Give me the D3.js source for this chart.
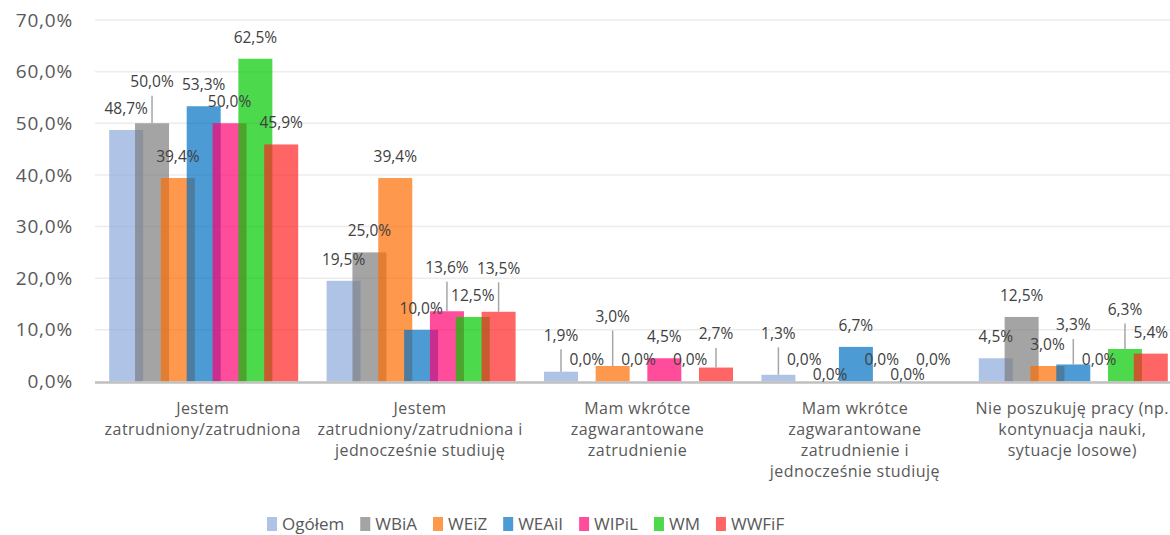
<!DOCTYPE html>
<html>
<head>
<meta charset="utf-8">
<script src="https://cdn.jsdelivr.net/npm/d3@7"></script>
<style>
	body { margin: 0; background: #fff; }
	svg { display: block; font-family: "Open Sans", "Noto Sans", sans-serif; }
</style>
</head>
<body>
<script>
window.onload = function() {
	chart.init();
}

// categories, each already split into lines like in the original
var categories = [
	["Jestem", "zatrudniony/zatrudniona"],
	["Jestem", "zatrudniony/zatrudniona i", "jednocześnie studiuję"],
	["Mam wkrótce", "zagwarantowane", "zatrudnienie"],
	["Mam wkrótce", "zagwarantowane", "zatrudnienie i", "jednocześnie studiuję"],
	["Nie poszukuję pracy (np.", "kontynuacja nauki,", "sytuacje losowe)"]
];

var seriesNames = ["Ogółem", "WBiA", "WEiZ", "WEAiI", "WIPiL", "WM", "WWFiF"];

var ogolem = [48.7, 19.5, 1.9, 1.3, 4.5];
var wbia   = [50.0, 25.0, 0.0, 0.0, 12.5];
var weiz   = [39.4, 39.4, 3.0, 0.0, 3.0];
var weaii  = [53.3, 10.0, 0.0, 6.7, 3.3];
var wipil  = [50.0, 13.6, 4.5, 0.0, 0.0];
var wm     = [62.5, 12.5, 0.0, 0.0, 6.3];
var wwfif  = [45.9, 13.5, 2.7, 0.0, 5.4];

var yTicks = [0, 10, 20, 30, 40, 50, 60, 70];

var chart = {

	svg: null,
	width: 1170,
	height: 535,

	colors: ["#8ba9db", "#7e7e7e", "#fc6c00", "#0070c3", "#ff0070", "#00c900", "#ff2424"],

	// labels that were dragged away in the original: [category, series, shift]
	moved: [
		[0, 1, -20],
		[1, 4, -22], [1, 6, -22],
		[2, 0, -15], [2, 2, -28], [2, 6, -12],
		[3, 0, -20], [3, 2, 15], [3, 5, 15],
		[4, 3, -18], [4, 5, -18]
	],

	init: function() {
		var values = [ogolem, wbia, weiz, weaii, wipil, wm, wwfif];
		var series = seriesNames.map(function(n, i) {
			return { name: n, color: chart.colors[i], values: values[i] };
		});

		var pct = d3.formatLocale({ decimal: ",", thousands: " ", grouping: [3], currency: ["", " zł"] }).format(".1%");

		this.svg = d3.select("body").append("svg")
			.attr("width", this.width)
			.attr("height", this.height);

		var x = d3.scaleBand()
			.domain(d3.range(categories.length))
			.range([95, 1182]);

		var inner = d3.scalePoint()
			.domain(seriesNames)
			.range([-77.5, 77.5]);

		var y = d3.scaleLinear()
			.domain([0, 70])
			.range([381.5, 20]);

		var barW = 34;
		var cx = function(c, s) { return x(c) + x.bandwidth() / 2 + inner(s); };

		// gridlines
		this.svg.append("g")
			.selectAll("line")
			.data(yTicks.slice(1))
			.join("line")
			.attr("x1", 95)
			.attr("x2", this.width)
			.attr("y1", function(d) { return y(d); })
			.attr("y2", function(d) { return y(d); })
			.attr("stroke", "#ececec")
			.attr("stroke-width", 1.5);

		// y axis labels
		var yAxis = this.svg.append("g")
			.attr("transform", "translate(73,0)")
			.call(d3.axisLeft(y).tickValues(yTicks).tickSize(0).tickPadding(0)
				.tickFormat(function(d) { return pct(d / 100); }));
		yAxis.select(".domain").remove();
		yAxis.selectAll("text")
			.attr("fill", "#595959")
			.style("font-size", "19px")
			.style("letter-spacing", "0.8px")
			.style("font-family", "'Open Sans', sans-serif");

		// bars, series by series so the later ones sit on top
		series.forEach(function(s) {
			chart.svg.append("g")
				.selectAll("rect")
				.data(s.values)
				.join("rect")
				.attr("x", function(d, i) { return cx(i, s.name) - barW / 2; })
				.attr("width", barW)
				.attr("y", function(d) { return y(d); })
				.attr("height", function(d) { return y(0) - y(d); })
				.attr("fill", s.color)
				.attr("fill-opacity", 0.7);
		});

		// x axis line
		this.svg.append("line")
			.attr("x1", 95)
			.attr("x2", this.width)
			.attr("y1", y(0) + 1)
			.attr("y2", y(0) + 1)
			.attr("stroke", "#bfbfbf")
			.attr("stroke-width", 2.5);

		// data labels
		var shift = function(c, si) {
			var m = chart.moved.filter(function(r) { return r[0] == c && r[1] == si; });
			return m.length ? m[0][2] : 0;
		};

		series.forEach(function(s, si) {
			s.values.forEach(function(v, c) {
				var px = cx(c, s.name);
				var dy = shift(c, si);
				var ly = y(v) - 21.5 + dy;
				if (dy < 0) {
					chart.svg.append("line")
						.attr("x1", px).attr("x2", px)
						.attr("y1", ly + 14)
						.attr("y2", y(v))
						.attr("stroke", "#a6a6a6")
						.attr("stroke-width", 1.5);
				}
				chart.svg.append("text")
					.attr("x", px)
					.attr("y", ly)
					.attr("dy", "0.35em")
					.attr("text-anchor", "middle")
					.attr("fill", "#404040")
					.style("font-size", "15.5px")
					.text(pct(v / 100));
			});
		});

		// category labels
		var cat = this.svg.append("g")
			.selectAll("text")
			.data(categories)
			.join("text")
			.attr("x", function(d, i) { return x(i) + x.bandwidth() / 2 - 1; })
			.attr("y", 408)
			.attr("text-anchor", "middle")
			.attr("fill", "#595959")
			.style("font-size", "16px")
			.style("letter-spacing", "0.45px");
		cat.selectAll("tspan")
			.data(function(d) { return d; })
			.join("tspan")
			.attr("x", function() { return d3.select(this.parentNode).attr("x"); })
			.attr("dy", function(d, i) { return i == 0 ? "0.35em" : 21; })
			.text(function(d) { return d; });

		this.legend(series);
	},

	legend: function(series) {
		var lg = this.svg.append("g");
		var pos = 267;
		series.forEach(function(s) {
			lg.append("rect")
				.attr("x", pos)
				.attr("y", 517)
				.attr("width", 10)
				.attr("height", 14)
				.attr("fill", s.color)
				.attr("fill-opacity", 0.7);
			var t = lg.append("text")
				.attr("x", pos + 15)
				.attr("y", 530)
				.attr("fill", "#595959")
				.style("font-size", "17px")
				.text(s.name);
			pos += 15 + t.node().getComputedTextLength() + 16;
		});
	}
};
</script>
</body>
</html>
